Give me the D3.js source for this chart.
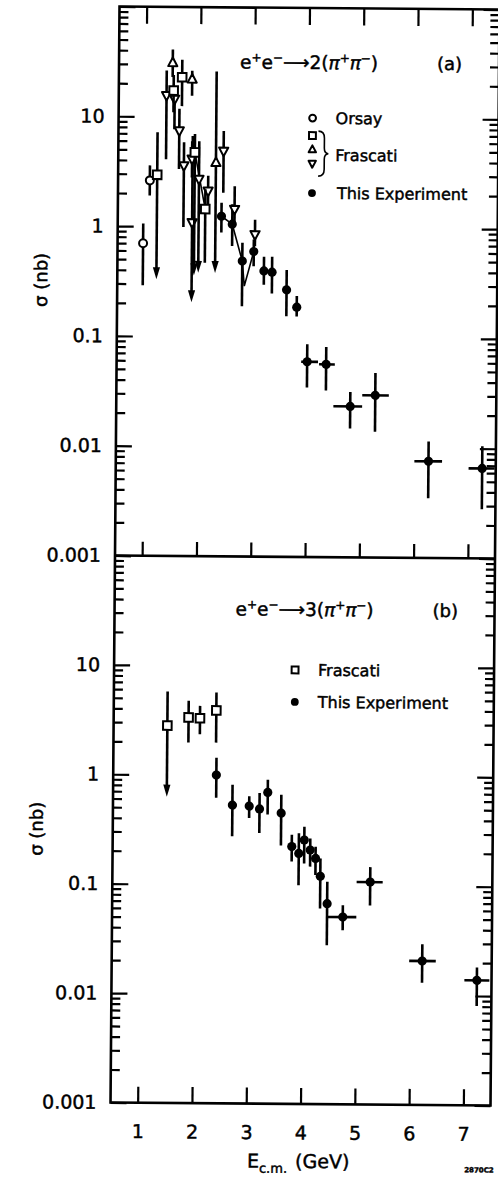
<!DOCTYPE html>
<html>
<head>
<meta charset="utf-8">
<script src="https://cdnjs.cloudflare.com/ajax/libs/d3/7.8.5/d3.min.js"></script>
<style>
  body { margin: 0; background: #fff; }
  svg { display: block; font-family: "DejaVu Sans", sans-serif; }
  text { stroke: #000; stroke-width: 0.45px; }
</style>
</head>
<body>
<svg id="chart" width="498" height="1181"></svg>
<script>
// rows: [E (GeV), sigma (nb), bar low, bar high, arrow, E low, E high]
var xTicks = [1, 2, 3, 4, 5, 6, 7],
    yTicks = [0.001, 0.01, 0.1, 1, 10, 100],
    yLabels = ['0.001', '0.01', '0.1', '1', '10', ''];

// (a) e+e- -> 2(pi+ pi-)
var orsay2 = [
    [0.97, 0.70, 0.29, 1.06],
    [1.085, 2.62, 1.91, 3.59]
];
var frascatiSq2 = [
    [1.22, 2.95, 0.33, 7.2, 1],
    [1.51, 17.3, 11, 24],
    [1.665, 22.9, 12.5, 33],
    [1.91, 4.75, 0.36, 7.0, 1],
    [2.11, 1.45, 0.47, 2.2]
];
var frascatiUp2 = [
    [1.49, 31, 23, 41],
    [1.85, 22, 15.6, 26.3],
    [2.30, 3.85, 0.38, 26, 1]
];
var frascatiDn2 = [
    [1.38, 15.6, 4.1, 26.3],
    [1.53, 14.5, 7.7, 19],
    [1.62, 7.46, 3.35, 11.8],
    [1.71, 3.59, 0.99, 5.86],
    [1.86, 4.13, 2.8, 6.0],
    [1.87, 1.09, 0.205, 6.7, 1],
    [1.99, 2.71, 0.38, 6.0, 1],
    [2.16, 2.12, 1.45, 2.91],
    [2.44, 4.91, 2.05, 7.46],
    [2.65, 1.45, 1.02, 2.35],
    [3.03, 0.857, 0.67, 1.17]
];
var thisExp2 = [
    [2.41, 1.25, 0.89, 1.66],
    [2.61, 1.06, 0.67, 1.61],
    [2.80, 0.49, 0.19, 0.72],
    [3.01, 0.60, 0.44, 0.77],
    [3.20, 0.40, 0.30, 0.54],
    [3.35, 0.39, 0.25, 0.54],
    [3.62, 0.27, 0.155, 0.41],
    [3.81, 0.188, 0.155, 0.238],
    [4.01, 0.060, 0.035, 0.0865, 0, 3.90, 4.21],
    [4.36, 0.057, 0.033, 0.082, 0, 4.23, 4.52],
    [4.81, 0.0237, 0.0149, 0.032, 0, 4.50, 5.03],
    [5.27, 0.030, 0.014, 0.048, 0, 5.03, 5.52],
    [6.26, 0.0076, 0.0035, 0.0115, 0, 6.00, 6.51],
    [7.25, 0.0066, 0.0028, 0.0105, 0, 7.00, 7.48]
];
// thin joining lines drawn through some of the points
var joins2 = [
    [[1.91, 4.75], [2.11, 1.45]],
    [[2.41, 1.25], [2.61, 1.06], [2.80, 0.49], [2.84, 0.29], [3.01, 0.60]]
];

// (b) e+e- -> 3(pi+ pi-)
var frascati3 = [
    [1.49, 2.81, 0.63, 5.76, 1],
    [1.88, 3.35, 1.98, 4.75],
    [2.09, 3.30, 2.36, 4.28],
    [2.39, 3.90, 1.98, 5.68]
];
var thisExp3 = [
    [2.40, 1.00, 0.62, 1.44],
    [2.70, 0.533, 0.277, 0.82, 0, 2.62, 2.78],
    [3.01, 0.523, 0.408, 0.644],
    [3.20, 0.494, 0.298, 0.69],
    [3.35, 0.70, 0.44, 0.916],
    [3.60, 0.454, 0.23, 0.668],
    [3.80, 0.225, 0.164, 0.288],
    [3.93, 0.195, 0.10, 0.298],
    [4.03, 0.259, 0.158, 0.343],
    [4.14, 0.21, 0.148, 0.268],
    [4.24, 0.176, 0.124, 0.225],
    [4.33, 0.121, 0.0615, 0.176],
    [4.46, 0.068, 0.0284, 0.108],
    [4.75, 0.0515, 0.039, 0.066, 0, 4.47, 5.00],
    [5.25, 0.108, 0.066, 0.148, 0, 5.00, 5.48],
    [6.22, 0.0207, 0.0131, 0.0294, 0, 5.98, 6.47],
    [7.23, 0.0139, 0.0081, 0.0182, 0, 7.00, 7.46]
];

var left = 115, right = 495,
    topA = 8, midY = 557, botB = 1104;

var svg = d3.select('#chart');
// the original scan is turned a little clockwise
var root = svg.append('g').attr('transform', 'rotate(0.47,305,557)');

var x = d3.scaleLinear().domain([0.5, 7.5]).range([left, right]),
    yA = d3.scaleLog().domain([0.001, 100]).range([midY, topA]),
    yB = d3.scaleLog().domain([0.001, 100]).range([botB, midY]);

var minorTicks = [];
yTicks.slice(0, -1).forEach(function (d) {
    for (var k = 2; k < 10; k++) { minorTicks.push(d * k); }
});

function styleAxis(g) {
    g.attr('font-family', '"DejaVu Sans", sans-serif').attr('font-size', 19);
    g.select('.domain').remove();
    g.selectAll('.tick line').attr('stroke', '#000').attr('stroke-width', 2.2);
    g.selectAll('.tick text').attr('fill', '#000');
}

function yAxes(y) {
    root.append('g').attr('transform', 'translate(' + left + ',0)')
        .call(d3.axisLeft(y).tickValues(yTicks).tickSize(-16).tickPadding(14)
            .tickFormat(function (d) { return yLabels[yTicks.indexOf(d)]; }))
        .call(styleAxis);
    root.append('g').attr('transform', 'translate(' + left + ',0)')
        .call(d3.axisLeft(y).tickValues(minorTicks).tickSize(-9).tickFormat(''))
        .call(styleAxis);
    root.append('g').attr('transform', 'translate(' + right + ',0)')
        .call(d3.axisRight(y).tickValues(yTicks).tickSize(-16).tickFormat(''))
        .call(styleAxis);
    root.append('g').attr('transform', 'translate(' + right + ',0)')
        .call(d3.axisRight(y).tickValues(minorTicks).tickSize(-9).tickFormat(''))
        .call(styleAxis);
}
yAxes(yA);
yAxes(yB);

root.append('g').attr('transform', 'translate(0,' + topA + ')')
    .call(d3.axisTop(x).tickValues(xTicks).tickSize(-17).tickFormat(''))
    .call(styleAxis);
root.append('g').attr('transform', 'translate(0,' + midY + ')')
    .call(d3.axisBottom(x).tickValues(xTicks).tickSize(-14).tickFormat(''))
    .call(styleAxis);
root.append('g').attr('transform', 'translate(0,' + botB + ')')
    .call(d3.axisBottom(x).tickValues(xTicks).tickSize(-16).tickPadding(22)
        .tickFormat(d3.format('d')))
    .call(styleAxis);

// frame
root.append('rect')
    .attr('x', left).attr('y', topA)
    .attr('width', right - left).attr('height', botB - topA)
    .attr('fill', 'none').attr('stroke', '#000').attr('stroke-width', 2.6);
root.append('line')
    .attr('x1', left).attr('x2', right).attr('y1', midY).attr('y2', midY)
    .attr('stroke', '#000').attr('stroke-width', 2.6);

function marker(g, type, cx, cy, s) {
    s = s || 1;
    var m;
    if (type === 'dot') {
        m = g.append('circle').attr('r', 4.6 * s).attr('fill', '#000');
    } else if (type === 'circle') {
        m = g.append('circle').attr('r', 4 * s).attr('fill', '#fff')
            .attr('stroke', '#000').attr('stroke-width', 2);
    } else if (type === 'square') {
        m = g.append('rect').attr('x', -4.3 * s).attr('y', -4.3 * s)
            .attr('width', 8.6 * s).attr('height', 8.6 * s).attr('fill', '#fff')
            .attr('stroke', '#000').attr('stroke-width', 2);
    } else {
        var d = type === 'up' ?
            'M0,' + (-5.2 * s) + 'L' + (4.6 * s) + ',' + (3.4 * s) + 'L' + (-4.6 * s) + ',' + (3.4 * s) + 'Z' :
            'M0,' + (5.2 * s) + 'L' + (4.6 * s) + ',' + (-3.4 * s) + 'L' + (-4.6 * s) + ',' + (-3.4 * s) + 'Z';
        m = g.append('path').attr('d', d).attr('fill', '#fff')
            .attr('stroke', '#000').attr('stroke-width', 2).attr('stroke-linejoin', 'round');
    }
    m.attr('transform', 'translate(' + cx + ',' + cy + ')');
}

function series(rows, y, type) {
    var g = root.append('g');
    rows.forEach(function (r) {
        var cx = x(r[0]), yLo = y(r[2]), yHi = y(r[3]);
        var end = r[4] ? yLo - 10 : yLo;
        g.append('line').attr('x1', cx).attr('x2', cx).attr('y1', yHi).attr('y2', end)
            .attr('stroke', '#000').attr('stroke-width', 2.6);
        if (r[4]) {
            g.append('path')
                .attr('d', 'M' + (cx - 3.6) + ',' + (yLo - 12) + 'L' + (cx + 3.6) + ',' + (yLo - 12) +
                    'L' + cx + ',' + yLo + 'Z')
                .attr('fill', '#000');
        }
        if (r[5] !== undefined) {
            g.append('line').attr('x1', x(r[5])).attr('x2', x(r[6]))
                .attr('y1', y(r[1])).attr('y2', y(r[1]))
                .attr('stroke', '#000').attr('stroke-width', 2.6);
        }
    });
    rows.forEach(function (r) { marker(g, type, x(r[0]), y(r[1])); });
}

var joinLine = d3.line().x(function (d) { return x(d[0]); }).y(function (d) { return yA(d[1]); });
joins2.forEach(function (pts) {
    root.append('path').attr('d', joinLine(pts)).attr('fill', 'none')
        .attr('stroke', '#000').attr('stroke-width', 1.6);
});

series(orsay2, yA, 'circle');
series(thisExp2, yA, 'dot');
series(frascatiDn2, yA, 'down');
series(frascatiUp2, yA, 'up');
series(frascatiSq2, yA, 'square');

series(thisExp3, yB, 'dot');
series(frascati3, yB, 'square');

// reaction labels
function reaction(px, py, n) {
    var t = root.append('text').attr('x', px).attr('y', py).attr('font-size', 18.5);
    t.append('tspan').text('e');
    t.append('tspan').attr('font-size', 12).attr('dy', -7).text('+');
    t.append('tspan').attr('dy', 7).text('e');
    t.append('tspan').attr('font-size', 12).attr('dy', -7).text('\u2212');
    t.append('tspan').attr('dy', 7).text('\u27f6');
    t.append('tspan').text(n + '(');
    t.append('tspan').attr('font-style', 'italic').text('\u03c0');
    t.append('tspan').attr('font-size', 12).attr('dy', -7).text('+');
    t.append('tspan').attr('dy', 7).attr('font-style', 'italic').text('\u03c0');
    t.append('tspan').attr('font-size', 12).attr('dy', -7).text('\u2212');
    t.append('tspan').attr('dy', 7).text(')');
}
reaction(236, 69, '2');
root.append('text').attr('x', 433).attr('y', 69).attr('font-size', 18).text('(a)');
reaction(236, 616, '3');
root.append('text').attr('x', 433).attr('y', 616).attr('font-size', 18).text('(b)');

// legends
var legA = root.append('g').attr('font-size', 16);
marker(legA, 'circle', 309, 118, 0.85);
marker(legA, 'square', 309, 135.5, 0.8);
marker(legA, 'up', 309, 149.5, 0.8);
marker(legA, 'down', 309, 163.5, 0.8);
marker(legA, 'dot', 309, 193, 0.85);
legA.append('path')
    .attr('d', 'M315,131 Q321,131 321,138 L321,148 Q321,153 325,153.5 Q321,154 321,159 L321,169 Q321,176 315,176')
    .attr('fill', 'none').attr('stroke', '#000').attr('stroke-width', 1.6);
legA.append('text').attr('x', 332).attr('y', 118).attr('dy', '0.36em').text('Orsay');
legA.append('text').attr('x', 332).attr('y', 155).attr('dy', '0.36em').text('Frascati');
legA.append('text').attr('x', 334).attr('y', 193).attr('dy', '0.36em').text('This Experiment');

var legB = root.append('g').attr('font-size', 16);
marker(legB, 'square', 296, 670, 0.8);
marker(legB, 'dot', 296, 702, 0.85);
legB.append('text').attr('x', 319).attr('y', 670).attr('dy', '0.36em').text('Frascati');
legB.append('text').attr('x', 319).attr('y', 702).attr('dy', '0.36em').text('This Experiment');

// axis titles
function sigmaTitle(cy) {
    root.append('text')
        .attr('transform', 'translate(45,' + cy + ') rotate(-90)')
        .attr('text-anchor', 'middle').attr('font-size', 18)
        .text('\u03c3 (nb)');
}
sigmaTitle(282);
sigmaTitle(831);

var xt = root.append('text').attr('x', 252).attr('y', 1168).attr('font-size', 19);
xt.append('tspan').text('E');
xt.append('tspan').attr('font-size', 13).attr('dy', 5).text('c.m.');
xt.append('tspan').attr('dy', -5).attr('dx', 8).text('(GeV)');

root.append('text').attr('x', 484).attr('y', 1171).attr('text-anchor', 'middle')
    .attr('font-size', 7).attr('font-weight', 'bold').text('2870C2');
</script>
</body>
</html>
